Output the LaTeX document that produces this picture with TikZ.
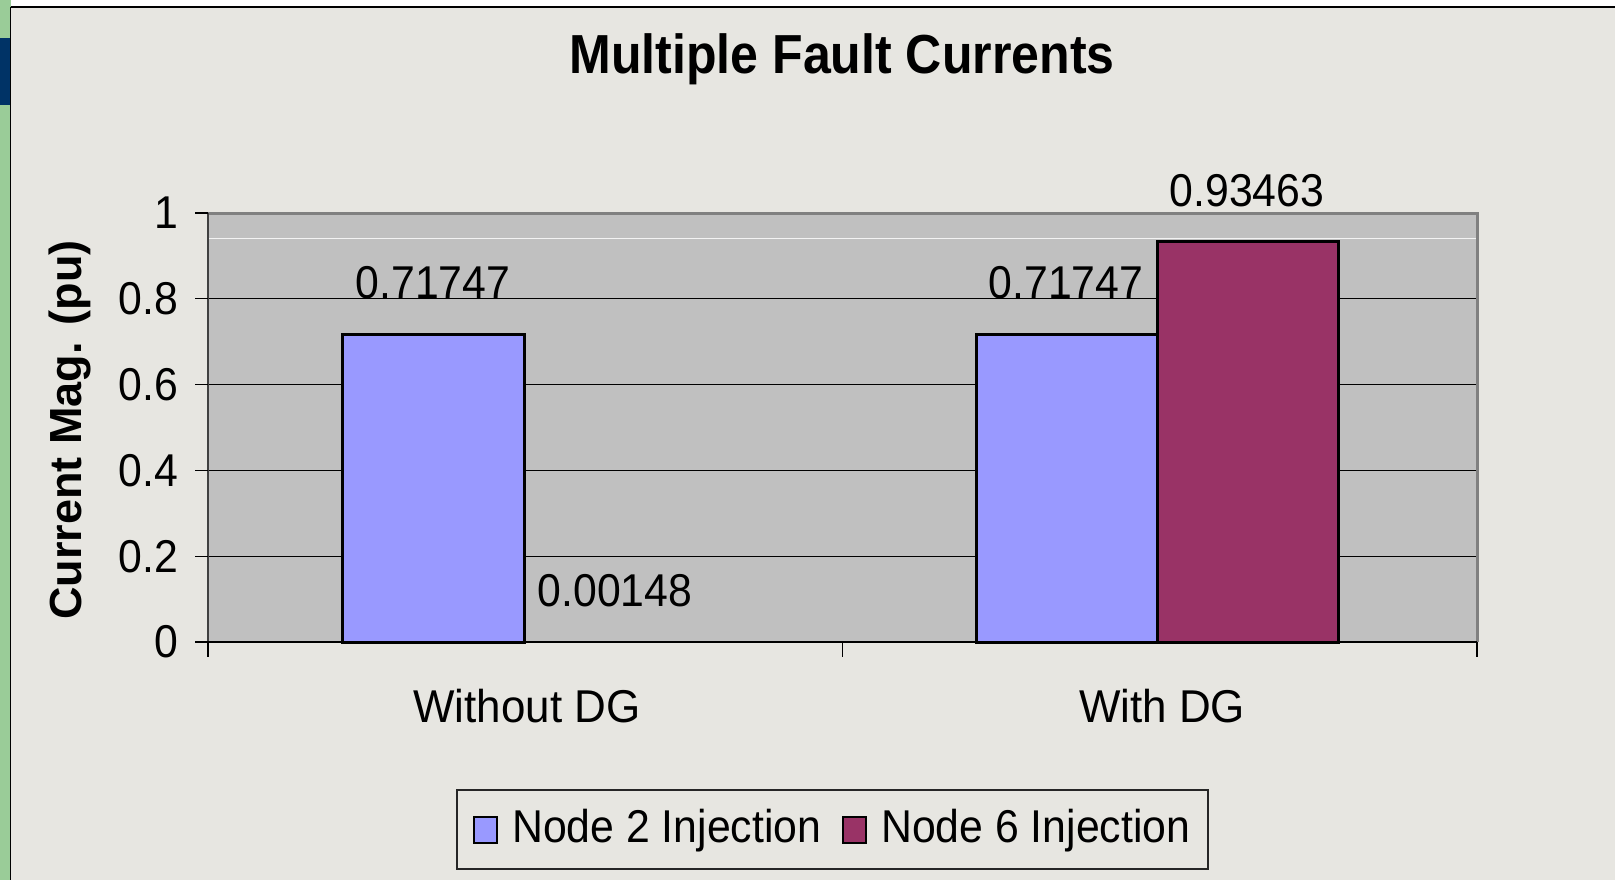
\documentclass[tikz,border=0pt]{standalone}
\usepackage{fontspec}
\setmainfont{Liberation Sans}
\definecolor{bgc}{HTML}{E7E6E1}
\definecolor{plotc}{HTML}{C0C0C0}
\definecolor{barA}{HTML}{9999FF}
\definecolor{barB}{HTML}{993366}
\definecolor{greenc}{HTML}{9ACC98}
\definecolor{bluec}{HTML}{003366}
\definecolor{framec}{HTML}{808080}
\newcommand{\cnd}[1]{\scalebox{0.93}[1]{#1}}
\newcommand{\cndc}[1]{\scalebox{0.955}[1]{#1}}
\begin{document}
\begin{tikzpicture}[x=1pt,y=-1pt,
  lbl/.style={inner sep=0pt, font=\fontsize{46}{50}\selectfont},
  ttl/.style={inner sep=0pt, font=\fontsize{55}{60}\selectfont\bfseries},
  axttl/.style={inner sep=0pt, font=\fontsize{45}{50}\selectfont\bfseries},
  barstyle/.style={draw=black, line width=3pt},
  grid line/.style={draw=black, line width=1pt},
  tickline/.style={draw=black, line width=1.2pt},
  swatch/.style={draw=black, line width=2.2pt}]
\useasboundingbox (0,0) rectangle (1615,880);
% page background
\fill[bgc] (0,0) rectangle (1615,880);
\fill[white] (10,0) rectangle (1615,7);
\fill[greenc] (0,0) rectangle (10.5,880);
\fill[bluec] (0,38) rectangle (10.5,105);
\draw[black, line width=1.5pt] (10.5,7) -- (1615,7);
\draw[black, line width=1.5pt] (10.5,7) -- (10.5,880);
% title
\node[ttl, anchor=base] (title) at (842,74) {\scalebox{0.91}[1]{Multiple Fault Currents}};
% plot area
\fill[plotc] (208,213) rectangle (1477,642);
\draw[white!80!plotc, line width=1pt] (208,238) -- (1477,238);
\foreach \v in {0.2,0.4,0.6,0.8} {
  \draw[grid line] (208,{642-429*\v}) -- (1477,{642-429*\v});
}
\draw[framec, line width=3pt] (208,213) -- (1477,213) -- (1477,642);
% bars
\filldraw[barstyle, fill=barA] (342,642) rectangle (524,334.2);
\filldraw[barstyle, fill=barA] (976,642) rectangle (1157,334.2);
\filldraw[barstyle, fill=barB] (1157,642) rectangle (1338,241);
% axes
\draw[black!75, line width=2pt] (208,213) -- (208,642);
\draw[black, line width=2pt] (208,642) -- (1477,642);
\foreach \v in {0,0.2,0.4,0.6,0.8,1} {
  \draw[tickline] (195,{642-429*\v}) -- (208,{642-429*\v});
}
\foreach \xx in {208,842.5,1477} {
  \draw[tickline] (\xx,642) -- (\xx,657);
}
% y tick labels
\node[lbl, anchor=east] (y0) at (178,642) {\cnd{0}};
\node[lbl, anchor=east] (y2) at (178,556.2) {\cnd{0.2}};
\node[lbl, anchor=east] (y4) at (178,470.4) {\cnd{0.4}};
\node[lbl, anchor=east] (y6) at (178,384.6) {\cnd{0.6}};
\node[lbl, anchor=east] (y8) at (178,298.8) {\cnd{0.8}};
\node[lbl, anchor=east] (y10) at (178,213) {\cnd{1}};
% axis title
\node[axttl, rotate=90] (ytitle) at (70,430) {Current Mag. (pu)};
% value labels
\node[lbl, anchor=base] (v1) at (433,298) {\cnd{0.71747}};
\node[lbl, anchor=base] (v2) at (615,606) {\cnd{0.00148}};
\node[lbl, anchor=base] (v3) at (1066,298) {\cnd{0.71747}};
\node[lbl, anchor=base] (v4) at (1247,207) {\cnd{0.93463}};
% category labels
\node[lbl, anchor=base] (c1) at (527,722) {\cndc{Without DG}};
\node[lbl, anchor=base] (c2) at (1162,722) {\cndc{With DG}};
% legend
\filldraw[draw=black!85, line width=1.2pt, fill=bgc] (457,790) rectangle (1208,869);
\filldraw[swatch, fill=barA] (474,817) rectangle (497,843);
\node[lbl, anchor=base west] (l1) at (512,842) {\cnd{Node 2 Injection}};
\filldraw[swatch, fill=barB] (843,817) rectangle (866,843);
\node[lbl, anchor=base west] (l2) at (881,842) {\cnd{Node 6 Injection}};
\end{tikzpicture}
\end{document}
